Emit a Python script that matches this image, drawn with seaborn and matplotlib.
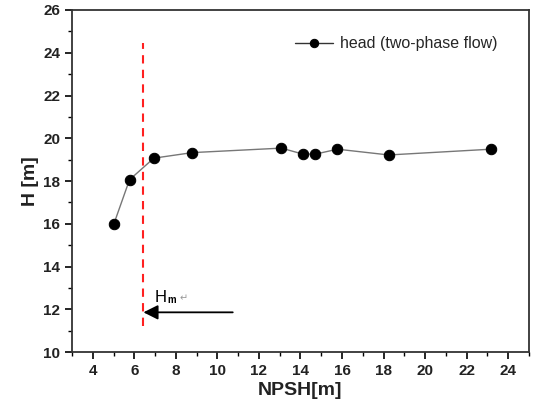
import matplotlib
matplotlib.use("Agg")
import matplotlib.pyplot as plt
import seaborn as sns
import pandas as pd
from matplotlib.ticker import MultipleLocator

npsh = [5.02, 5.77, 6.94, 8.79, 13.08, 14.12, 14.72, 15.78, 18.25, 23.17]
head = [16.0, 18.06, 19.07, 19.33, 19.54, 19.26, 19.26, 19.49, 19.22, 19.49]
series_label = "head (two-phase flow)"
x_cut = 6.44
cut_y = [11.2, 24.45]
arrow_start = (10.74, 11.86)
x_ticks = [4, 6, 8, 10, 12, 14, 16, 18, 20, 22, 24]
y_ticks = [10, 12, 14, 16, 18, 20, 22, 24, 26]

sns.set_style("white")
plt.rcParams['font.family'] = ['Liberation Sans', 'DejaVu Sans']

df = pd.DataFrame({"NPSH": npsh, "H": head})

fig = plt.figure(figsize=(5.33, 4.08), dpi=100)
ax = fig.add_axes([0.135, 0.137, 0.8575, 0.8385])

sns.lineplot(data=df, x="NPSH", y="H", ax=ax, color="#777777", linewidth=1.0,
             marker="o", markersize=7.5, markerfacecolor="black", markeredgecolor="black",
             label=series_label, sort=False)

ax.plot([x_cut, x_cut], cut_y, color="#ff2020", linestyle=(0, (4, 3)), linewidth=1.5)
ax.annotate("", xy=(x_cut, arrow_start[1]), xytext=arrow_start,
            arrowprops=dict(arrowstyle="-|>", color="black", lw=1.3,
                            mutation_scale=22, shrinkA=0, shrinkB=0))
ax.text(7.0, 12.2, "H", fontsize=12, color="black", ha="left", va="bottom")
ax.text(7.6, 12.2, "m", fontsize=7, color="black", fontweight="bold", ha="left", va="bottom")
ax.text(8.2, 12.3, "\u21b5", fontsize=7, color="#999999", ha="left", va="bottom")

ax.set_xlim(3, 25)
ax.set_ylim(10, 26)
ax.set_xticks(x_ticks)
ax.set_yticks(y_ticks)
ax.xaxis.set_minor_locator(MultipleLocator(1))
ax.yaxis.set_minor_locator(MultipleLocator(1))
ax.tick_params(axis="both", which="major", direction="out", length=5, width=1.2,
               labelsize=11, bottom=True, left=True, top=False, right=False, color="black")
ax.tick_params(axis="both", which="minor", direction="out", length=3, width=1.0,
               bottom=True, left=True, top=False, right=False, color="black")
for lab in ax.get_xticklabels() + ax.get_yticklabels():
    lab.set_fontweight("bold")
    lab.set_color("#222222")

for side in ["left", "bottom", "top", "right"]:
    ax.spines[side].set_visible(True)
    ax.spines[side].set_color("#333333")
    ax.spines[side].set_linewidth(1.3)

ax.set_xlabel("NPSH[m]", fontsize=14, fontweight="bold", color="#222222", labelpad=3)
ax.set_ylabel("H [m]", fontsize=14, fontweight="bold", color="#222222", labelpad=3)

leg = ax.legend(loc="upper right", frameon=False, fontsize=11.5,
                bbox_to_anchor=(0.962, 0.965), handlelength=2.4, handletextpad=0.4,
                markerscale=0.8)
for line in leg.get_lines():
    line.set_color("#333333")

fig.savefig("out.png", dpi=100)
